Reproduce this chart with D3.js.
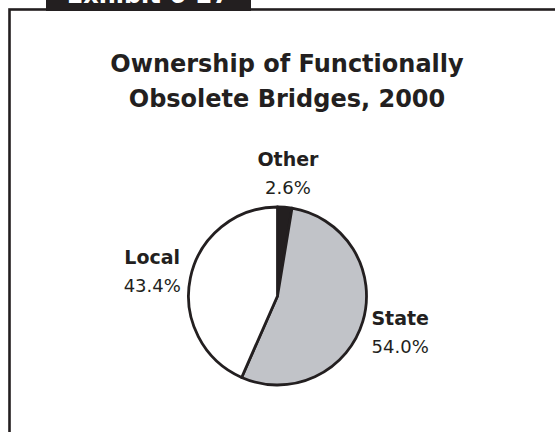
<!DOCTYPE html>
<html>
<head>
<meta charset="utf-8">
<script src="https://cdn.jsdelivr.net/npm/d3@7"></script>
<style>
  html, body { margin: 0; padding: 0; background: #fff; }
  svg { display: block; }
</style>
</head>
<body>
<svg id="chart" width="555" height="432"></svg>
<script>
const categories = ["Other", "State", "Local"];
const values = [2.6, 54.0, 43.4];
const valueLabels = ["2.6%", "54.0%", "43.4%"];
const sliceColors = ["#231f20", "#c1c3c8", "#ffffff"];
const titleLines = ["Ownership of Functionally", "Obsolete Bridges, 2000"];
const exhibitLabel = "Exhibit 6-27";

const W = 555, H = 432;
const svg = d3.select("#chart");
const ink = "#231f20";
const font = "DejaVu Sans, Verdana, sans-serif";

// frame
svg.append("rect")
  .attr("x", 9.5).attr("y", 9.5)
  .attr("width", W + 20).attr("height", H + 20)
  .attr("fill", "none").attr("stroke", ink).attr("stroke-width", 2.6);

// exhibit tab (cut off at top, as in the reference)
svg.append("rect")
  .attr("x", 46).attr("y", -20).attr("width", 205).attr("height", 31)
  .attr("fill", ink);
svg.append("text")
  .attr("x", 148).attr("y", 3)
  .attr("text-anchor", "middle")
  .attr("font-family", font).attr("font-weight", "bold")
  .attr("font-size", 24).attr("fill", "#fff")
  .text(exhibitLabel);

// title
svg.append("g").selectAll("text").data(titleLines).join("text")
  .attr("x", 287).attr("y", (d, i) => 72 + i * 35)
  .attr("text-anchor", "middle")
  .attr("font-family", font).attr("font-weight", "bold")
  .attr("font-size", 24).attr("fill", ink)
  .text(d => d);

// pie
const cx = 277.5, cy = 296, R = 89;
const data = categories.map((c, i) => ({ cat: c, value: values[i], label: valueLabels[i], color: sliceColors[i] }));
const pie = d3.pie().value(d => d.value).sort(null);
const arcs = pie(data);
const arc = d3.arc().innerRadius(0).outerRadius(R);

const g = svg.append("g").attr("transform", `translate(${cx},${cy})`);
g.selectAll("path").data(arcs).join("path")
  .attr("d", arc)
  .attr("fill", d => d.data.color)
  .attr("stroke", ink).attr("stroke-width", 2.8)
  .attr("stroke-linejoin", "round");

// labels
const rx = 128, ry = 124;
const lab = g.selectAll("g.lab").data(arcs).join("g").attr("class", "lab")
  .attr("transform", d => {
    const a = (d.startAngle + d.endAngle) / 2;
    return `translate(${rx * Math.sin(a)},${-ry * Math.cos(a)})`;
  });
lab.append("text")
  .attr("y", -6).attr("text-anchor", "middle")
  .attr("font-family", font).attr("font-weight", "bold")
  .attr("font-size", 19).attr("fill", ink)
  .text(d => d.data.cat);
lab.append("text")
  .attr("y", 22).attr("text-anchor", "middle")
  .attr("font-family", font)
  .attr("font-size", 18).attr("fill", ink)
  .text(d => d.data.label);
</script>
</body>
</html>
